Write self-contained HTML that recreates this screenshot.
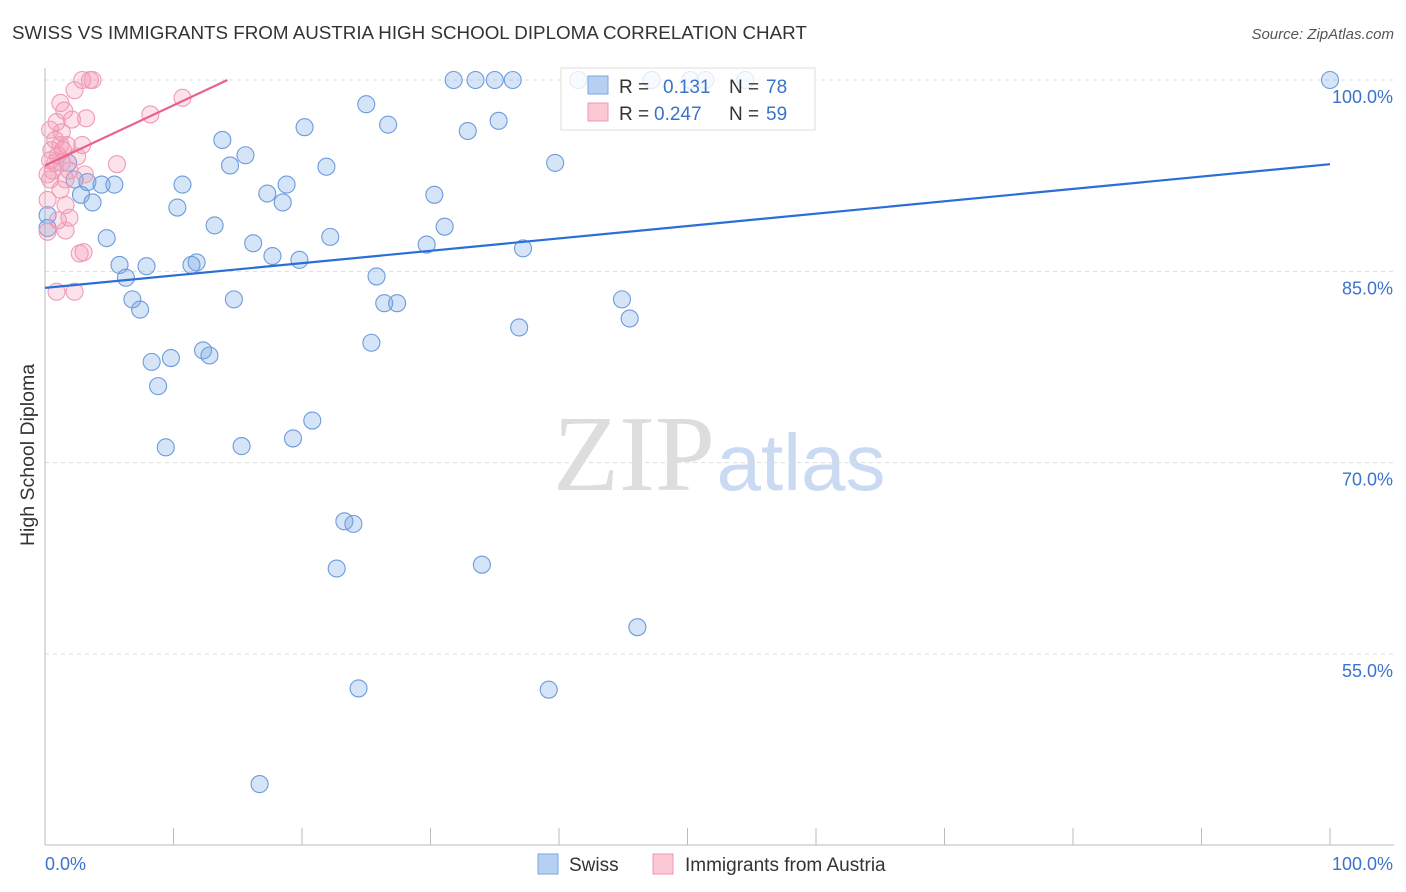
<!DOCTYPE html>
<html><head><meta charset="utf-8"><style>
body{margin:0;background:#fff;font-family:"Liberation Sans",sans-serif}
#c{position:absolute;left:0;top:0}
</style></head><body>
<svg id="c" width="1406" height="892" xmlns="http://www.w3.org/2000/svg">
<text x="12" y="39" font-size="18.8" fill="#333">SWISS VS IMMIGRANTS FROM AUSTRIA HIGH SCHOOL DIPLOMA CORRELATION CHART</text>
<text x="1394" y="39" font-size="15" fill="#555" text-anchor="end" font-style="italic">Source: ZipAtlas.com</text>
<text x="34" y="455" font-size="19.5" fill="#333" text-anchor="middle" transform="rotate(-90 34 455)">High School Diploma</text>
<g>
<text x="634" y="490" font-size="108" fill="#ddd" font-family="Liberation Serif,serif" text-anchor="middle">ZIP</text>
<text x="801" y="490" font-size="80" fill="#c9daf2" text-anchor="middle">atlas</text>
</g>
<g id="grid"></g><g id="pts"></g><g id="lines"></g>
<g>
<rect x="561" y="68" width="254" height="62" fill="#fff" fill-opacity="0.8" stroke="#ddd"/>
<rect x="588" y="76" width="20" height="18" fill="#b5d0f2" stroke="#7aa6e0"/>
<text x="619" y="93" font-size="19" fill="#333">R = </text><text x="663" y="93" font-size="19" fill="#3a73cc">0.131</text>
<text x="729" y="93" font-size="19" fill="#333">N = </text><text x="766" y="93" font-size="19" fill="#3a73cc">78</text>
<rect x="588" y="103" width="20" height="18" fill="#fbc8d6" stroke="#ee9ab2"/>
<text x="619" y="120" font-size="19" fill="#333">R = </text><text x="654" y="120" font-size="19" fill="#3a73cc">0.247</text>
<text x="729" y="120" font-size="19" fill="#333">N = </text><text x="766" y="120" font-size="19" fill="#3a73cc">59</text>
</g>
<g>
<rect x="538" y="854" width="20" height="20" fill="#b5d0f2" stroke="#7aa6e0"/>
<text x="569" y="871" font-size="19" fill="#333">Swiss</text>
<rect x="653" y="854" width="20" height="20" fill="#fbc8d6" stroke="#ee9ab2"/>
<text x="685" y="871" font-size="19" fill="#333">Immigrants from Austria</text>
</g>
<text x="45" y="870" font-size="18" fill="#3a73cc">0.0%</text>
<text x="1393" y="870" font-size="18" fill="#3a73cc" text-anchor="end">100.0%</text>
</svg>
<script>
const yTicks=[100,85,70,55];
const xTicks=[0,10,20,30,40,50,60,70,80,90,100];
const swissX=[100,31.8,33.5,35.0,36.4,41.5,47.2,50.2,51.4,54.5,25.0,20.2,26.7,35.3,32.9,13.8,15.6,14.4,21.9,39.7,1.8,2.3,3.3,4.4,5.4,10.7,18.8,17.3,18.5,30.3,2.8,3.7,10.3,13.2,31.1,4.8,22.2,16.2,29.7,37.2,17.7,19.8,11.8,11.4,5.8,7.9,6.3,25.8,6.8,7.4,14.7,26.4,27.4,44.9,45.5,36.9,25.4,12.3,12.8,9.8,8.3,8.8,20.8,19.3,9.4,15.3,23.3,24.0,22.7,34.0,46.1,24.4,39.2,16.7,0.2,0.2];
const swissY=[100,100,100,100,100,100,100,100,100,100,98.1,96.3,96.5,96.8,96.0,95.3,94.1,93.3,93.2,93.5,93.5,92.2,92.0,91.8,91.8,91.8,91.8,91.1,90.4,91.0,91.0,90.4,90.0,88.6,88.5,87.6,87.7,87.2,87.1,86.8,86.2,85.9,85.7,85.5,85.5,85.4,84.5,84.6,82.8,82.0,82.8,82.5,82.5,82.8,81.3,80.6,79.4,78.8,78.4,78.2,77.9,76.0,73.3,71.9,71.2,71.3,65.4,65.2,61.7,62.0,57.1,52.3,52.2,44.8,89.4,88.4];
const austX=[2.9,3.5,3.7,2.3,10.7,8.2,1.2,1.5,3.2,0.9,1.3,0.8,1.7,2.9,0.5,1.0,2.5,0.4,0.8,1.3,5.6,1.9,0.2,3.1,0.4,1.2,1.6,1.9,1.0,1.6,0.2,3.0,2.7,0.9,2.3,0.4,2.1,1.4,0.6,1.6,1.2,0.2];
const austY=[100,100,100,99.2,98.6,97.3,98.2,97.6,97.0,96.7,95.9,95.3,94.9,94.9,94.5,94.1,94.0,93.7,93.5,93.5,93.4,92.9,92.6,92.6,92.2,91.4,90.2,89.2,89.0,88.2,88.1,86.5,86.4,83.4,83.4,96.1,96.9,94.5,92.9,92.2,94.9,90.6];
const swissTrendX=[0,100], swissTrendY=[83.7,93.4];
const austTrendX=[0,14.2], austTrendY=[93.3,100];
const NS='http://www.w3.org/2000/svg';
const sx=v=>45+v*12.85, sy=v=>80+(100-v)*12.755;
function mk(t,a,p){const e=document.createElementNS(NS,t);for(const k in a)e.setAttribute(k,a[k]);p.appendChild(e);return e;}
const g=document.getElementById('grid');
yTicks.forEach(v=>{
 const l=mk('line',{x1:45,x2:1394,y1:sy(v),y2:sy(v),stroke:'#ddd','stroke-dasharray':'4,4'},g);
 
 
 const t=mk('text',{x:1393,y:sy(v)+23,'font-size':18,fill:'#3a73cc','text-anchor':'end'},g);t.textContent=v.toFixed(1)+'%';
 
 
});
mk('line',{x1:45,x2:45,y1:68,y2:845,stroke:'#bbb'},g);
mk('line',{x1:45,x2:1394,y1:845,y2:845,stroke:'#bbb'},g);
xTicks.forEach(v=>{const l=mk('line',{x1:sx(v),x2:sx(v),y1:828,y2:845,stroke:'#bbb'},g);
 
 });
const p=document.getElementById('pts');
swissX.forEach((x,i)=>{const c=mk('circle',{cx:sx(x),cy:sy(swissY[i]),r:8.5,fill:'rgba(120,165,230,0.3)',stroke:'#6c9bdc','stroke-width':1.1},p);
 
 });
austX.forEach((x,i)=>{const c=mk('circle',{cx:sx(x),cy:sy(austY[i]),r:8.5,fill:'rgba(245,150,180,0.28)',stroke:'#ee9cb4','stroke-width':1.1},p);
 
 });
const L=document.getElementById('lines');
const l1=mk('line',{x1:sx(swissTrendX[0]),y1:sy(swissTrendY[0]),x2:sx(swissTrendX[1]),y2:sy(swissTrendY[1]),stroke:'#2a6fd4','stroke-width':2.2},L);


const l2=mk('line',{x1:sx(austTrendX[0]),y1:sy(austTrendY[0]),x2:sx(austTrendX[1]),y2:sy(austTrendY[1]),stroke:'#e8628c','stroke-width':2.2},L);


</script>
</body></html>
